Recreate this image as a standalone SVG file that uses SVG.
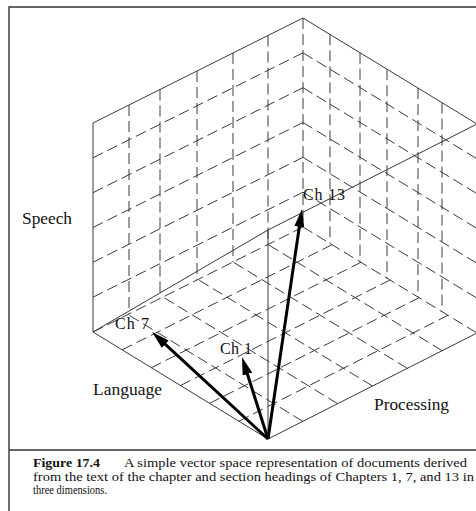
<svg xmlns="http://www.w3.org/2000/svg" width="476" height="511" viewBox="0 0 476 511">
<style>
.frame{stroke:#333;stroke-width:1.4;fill:none}
.edge{stroke:#3a3a3a;stroke-width:1;fill:none}
.grid{stroke:#3a3a3a;stroke-width:1;fill:none;stroke-dasharray:11 5}
.vec{stroke:#000;stroke-width:3;fill:none;marker-end:url(#head)}
.lbl{font-family:"Liberation Serif","Times New Roman",serif;font-size:16px;fill:#111}
.cap{font-family:"Liberation Serif","Times New Roman",serif;font-size:11.5px;fill:#111}
.capb{font-weight:bold}
</style>
<defs>
<marker id="head" viewBox="0 0 18 10" refX="8" refY="5" markerWidth="18" markerHeight="10" markerUnits="userSpaceOnUse" orient="auto">
<path d="M0,0 L18,5 L0,10 z" fill="#000"/>
</marker>
</defs>
<rect width="476" height="511" fill="#fff"/>
<g id="frame">
<path class="frame" d="M9,511 V7 H476"/>
<line class="frame" x1="9" y1="450" x2="476" y2="450" stroke-width="1.8"/>
</g>
<g id="left-wall-grid">
<line class="grid" x1="129" y1="105" x2="129" y2="314"/>
<line class="grid" x1="160" y1="89.5" x2="160" y2="298.5"/>
<line class="grid" x1="197" y1="71" x2="197" y2="280"/>
<line class="grid" x1="233" y1="53" x2="233" y2="262"/>
<line class="grid" x1="268" y1="35.5" x2="268" y2="244.5"/>
<line class="grid" x1="93" y1="297.2" x2="303" y2="192.2"/>
<line class="grid" x1="93" y1="262.3" x2="303" y2="157.3"/>
<line class="grid" x1="93" y1="227.5" x2="303" y2="122.5"/>
<line class="grid" x1="93" y1="192.7" x2="303" y2="87.7"/>
<line class="grid" x1="93" y1="157.8" x2="303" y2="52.8"/>
<line class="grid" x1="93" y1="332" x2="303" y2="227"/>
</g>
<g id="right-wall-grid">
<line class="grid" x1="303" y1="18" x2="303" y2="227"/>
<line class="grid" x1="330" y1="34.4" x2="330" y2="243.4"/>
<line class="grid" x1="360" y1="52.7" x2="360" y2="261.7"/>
<line class="grid" x1="387" y1="69.2" x2="387" y2="278.2"/>
<line class="grid" x1="418" y1="88.1" x2="418" y2="297.1"/>
<line class="grid" x1="442" y1="102.7" x2="442" y2="311.7"/>
<line class="grid" x1="303" y1="192.2" x2="477" y2="298.2"/>
<line class="grid" x1="303" y1="157.3" x2="477" y2="263.3"/>
<line class="grid" x1="303" y1="122.5" x2="477" y2="228.5"/>
<line class="grid" x1="303" y1="87.7" x2="477" y2="193.7"/>
<line class="grid" x1="303" y1="52.8" x2="477" y2="158.8"/>
<line class="grid" x1="303" y1="227" x2="477" y2="333"/>
</g>
<g id="floor-grid">
<line class="grid" x1="302.8" y1="421.3" x2="128" y2="314.5"/>
<line class="grid" x1="337.7" y1="403.7" x2="163" y2="297"/>
<line class="grid" x1="372.5" y1="386" x2="198" y2="279.5"/>
<line class="grid" x1="407.3" y1="368.3" x2="233" y2="262"/>
<line class="grid" x1="442.2" y1="350.7" x2="268" y2="244.5"/>
<line class="grid" x1="238.8" y1="421.2" x2="448" y2="315.3"/>
<line class="grid" x1="209.7" y1="403.3" x2="419" y2="297.7"/>
<line class="grid" x1="180.5" y1="385.5" x2="390" y2="280"/>
<line class="grid" x1="151.3" y1="367.7" x2="361" y2="262.3"/>
<line class="grid" x1="122.2" y1="349.8" x2="332" y2="244.7"/>
</g>
<g id="cube-edges">
<path class="edge" d="M93,332 V123 L303,18 L477,124 L268,230 Z"/>
<line class="edge" x1="268" y1="230" x2="268" y2="439"/>
<path class="edge" d="M93,332 L268,439 L477,333"/>
</g>
<g id="connectors">
<line class="vec" x1="268" y1="439" x2="159.4" y2="338.8"/>
<line class="vec" x1="268" y1="439" x2="245" y2="366.5"/>
<line class="vec" x1="268" y1="439" x2="300.5" y2="218.9"/>
</g>
<g id="axis-speech"><text class="lbl" x="22" y="224" textLength="50" lengthAdjust="spacingAndGlyphs">Speech</text></g>
<g id="axis-language"><text class="lbl" x="93" y="395" textLength="69" lengthAdjust="spacingAndGlyphs">Language</text></g>
<g id="axis-processing"><text class="lbl" x="374" y="410" textLength="75" lengthAdjust="spacingAndGlyphs">Processing</text></g>
<g id="ch7"><text class="lbl" x="115" y="329" textLength="34" lengthAdjust="spacing">Ch 7</text></g>
<g id="ch1"><text class="lbl" x="220" y="354" textLength="32" lengthAdjust="spacing">Ch 1</text></g>
<g id="ch13"><text class="lbl" x="303" y="200" textLength="42" lengthAdjust="spacing">Ch 13</text></g>
<g id="caption">
<text class="cap capb" x="33" y="467" textLength="67" lengthAdjust="spacingAndGlyphs">Figure 17.4</text>
<text class="cap" x="124" y="467" textLength="343" lengthAdjust="spacingAndGlyphs">A simple vector space representation of documents derived</text>
<text class="cap" x="33" y="481" textLength="441" lengthAdjust="spacingAndGlyphs">from the text of the chapter and section headings of Chapters 1, 7, and 13 in</text>
<text class="cap" x="33" y="494" textLength="74" lengthAdjust="spacingAndGlyphs">three dimensions.</text>
</g>
</svg>
